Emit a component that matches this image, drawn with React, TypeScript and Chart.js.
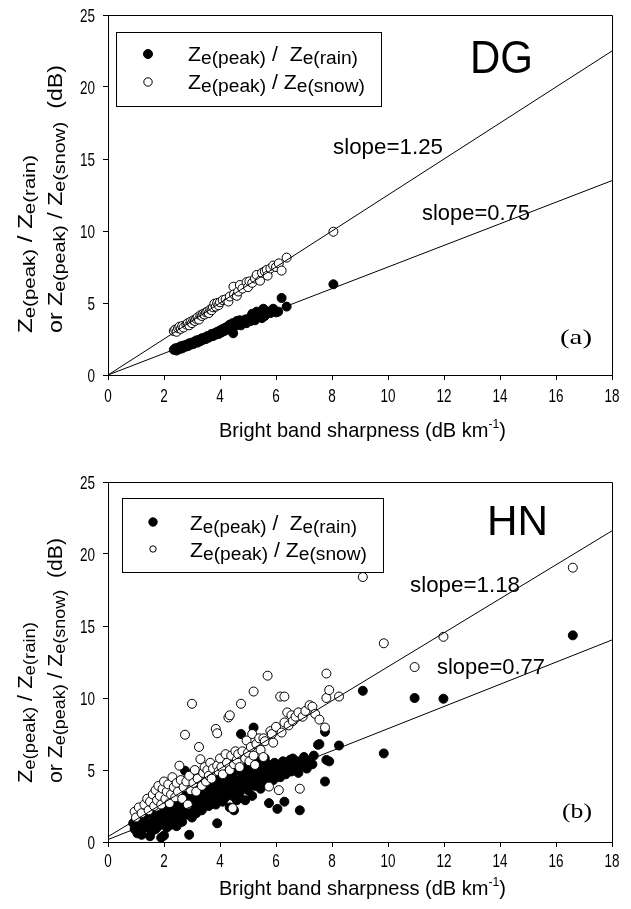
import React, { useEffect, useRef } from 'react';
import { Chart, registerables } from 'chart.js';
Chart.register(...registerables);

// ---------- data ----------
const X_MIN = 0, X_MAX = 18, X_STEP = 2;
const Y_MIN = 0, Y_MAX = 25, Y_STEP = 5;

const dgRain: [number, number][] = [
  [2.35,1.75],[2.4,1.85],[2.45,1.7],[2.5,1.9],[2.55,1.8],[2.6,2.0],[2.65,1.85],[2.7,2.05],[2.75,1.95],[2.8,2.1],
  [2.85,2.0],[2.9,2.2],[2.95,2.1],[3.0,2.25],[3.05,2.15],[3.1,2.3],[3.15,2.4],[3.2,2.25],[3.25,2.45],[3.3,2.35],
  [3.35,2.55],[3.4,2.45],[3.45,2.6],[3.5,2.5],[3.55,2.7],[3.6,2.6],[3.65,2.75],[3.7,2.85],[3.75,2.7],[3.8,2.9],
  [3.85,2.8],[3.9,3.0],[3.95,2.85],[4.0,3.1],[4.05,2.95],[4.1,3.2],[4.15,3.05],[4.2,3.3],[4.25,3.15],[4.3,3.4],
  [4.35,3.5],[4.4,3.25],[4.45,3.6],[4.47,2.9],[4.55,3.4],[4.6,3.75],[4.65,3.55],[4.7,3.8],[4.75,3.45],[4.8,3.7],
  [4.9,3.85],[4.95,3.6],[5.0,3.9],[5.1,3.75],[5.15,4.25],[5.2,4.0],[5.25,3.8],[5.31,4.4],[5.4,4.1],[5.5,3.95],
  [5.55,4.6],[5.6,4.1],[5.7,4.4],[5.8,4.3],[5.9,4.6],[6.0,4.35],[6.08,4.4],[6.2,5.35],[6.38,4.75],[8.05,6.3],
];
const dgSnow: [number, number][] = [
  [2.35,3.05],[2.4,3.15],[2.45,3.0],[2.5,3.25],[2.55,3.35],[2.6,3.2],[2.65,3.4],[2.7,3.3],[2.8,3.5],[2.85,3.6],
  [2.9,3.45],[2.95,3.7],[3.0,3.6],[3.05,3.8],[3.1,3.75],[3.15,3.9],[3.2,4.0],[3.25,3.85],[3.3,4.15],[3.35,4.1],
  [3.4,4.25],[3.45,4.2],[3.5,4.35],[3.55,4.4],[3.6,4.3],[3.65,4.55],[3.7,4.5],[3.75,4.7],[3.8,4.95],[3.85,4.75],
  [3.9,5.0],[3.95,4.85],[4.0,5.05],[4.1,5.2],[4.2,5.25],[4.3,5.1],[4.35,5.45],[4.48,6.13],[4.5,5.6],[4.6,5.5],
  [4.65,5.8],[4.71,6.25],[4.8,6.0],[4.95,6.45],[5.0,6.1],[5.05,6.5],[5.15,6.4],[5.25,6.7],[5.31,6.95],[5.43,6.55],
  [5.5,7.1],[5.6,7.2],[5.67,7.3],[5.7,6.9],[5.8,7.4],[5.9,7.6],[6.0,7.5],[6.1,7.75],[6.2,7.25],[6.38,8.15],[8.05,9.95],
];
const dgSlopes = [1.25, 0.75];
const dgIntercepts = [0, 0];
const dgSlopeLabels = ['slope=1.25', 'slope=0.75'];

const hnRain: [number, number][] = [
  [0.9,1.3],[0.95,0.9],[1.0,1.1],[1.0,1.6],[1.05,0.6],[1.1,1.4],[1.15,0.8],[1.2,0.5],[1.3,1.0],[1.3,1.7],
  [1.4,1.3],[1.5,0.4],[1.55,0.7],[1.6,1.2],[1.6,1.9],[1.65,1.6],[1.7,0.9],[1.75,1.5],[1.8,1.1],[1.85,1.9],
  [1.9,0.3],[1.95,1.4],[2.0,0.45],[2.0,1.7],[2.0,2.4],[2.05,2.1],[2.1,1.0],[2.15,1.5],[2.2,1.9],[2.2,2.6],
  [2.25,1.2],[2.3,2.3],[2.35,1.6],[2.4,2.0],[2.4,2.9],[2.45,1.1],[2.5,2.6],[2.55,1.8],[2.6,2.2],[2.6,3.0],
  [2.65,1.4],[2.7,2.5],[2.75,4.95],[2.8,1.9],[2.8,3.3],[2.85,2.7],[2.9,0.5],[2.9,2.3],[2.95,3.0],[3.0,1.7],
  [3.0,3.6],[3.05,2.6],[3.1,3.3],[3.15,2.0],[3.2,2.9],[3.2,3.8],[3.25,2.4],[3.3,3.5],[3.3,2.8],[3.35,2.2],
  [3.4,3.1],[3.4,3.9],[3.45,2.7],[3.5,3.7],[3.55,3.0],[3.6,2.5],[3.6,4.1],[3.65,3.4],[3.7,2.9],[3.7,3.3],
  [3.75,3.8],[3.8,3.2],[3.8,4.2],[3.85,2.6],[3.9,1.3],[3.9,3.6],[3.95,3.0],[4.0,4.0],[4.0,4.5],[4.05,3.4],
  [4.1,2.8],[4.1,3.6],[4.15,3.7],[4.2,3.1],[4.2,4.7],[4.25,4.2],[4.3,3.5],[4.35,2.4],[4.4,3.9],[4.4,4.8],
  [4.45,3.2],[4.5,2.2],[4.5,4.4],[4.55,3.6],[4.6,2.9],[4.6,4.0],[4.6,5.0],[4.65,4.1],[4.7,3.4],[4.75,7.5],
  [4.8,4.6],[4.8,5.1],[4.85,3.8],[4.9,2.9],[4.95,4.3],[5.0,3.6],[5.0,5.3],[5.05,4.8],[5.1,4.0],[5.1,4.4],
  [5.15,3.2],[5.2,7.95],[5.2,4.5],[5.2,5.5],[5.25,3.9],[5.3,5.0],[5.35,4.2],[5.4,4.7],[5.4,5.6],[5.45,3.7],
  [5.5,5.2],[5.55,4.4],[5.6,4.9],[5.6,4.6],[5.6,5.8],[5.65,4.1],[5.7,5.4],[5.75,2.7],[5.8,4.6],[5.85,5.1],
  [5.9,4.3],[5.95,5.5],[6.0,4.8],[6.0,5.2],[6.05,2.3],[6.1,5.3],[6.15,4.5],[6.2,5.0],[6.25,5.6],[6.3,2.8],
  [6.3,5.5],[6.35,4.7],[6.4,5.2],[6.5,5.7],[6.55,4.9],[6.6,5.4],[6.6,5.8],[6.7,5.1],[6.75,5.6],[6.8,4.8],
  [6.85,2.2],[6.9,5.3],[7.0,5.5],[7.0,5.9],[7.1,5.1],[7.2,5.6],[7.3,5.4],[7.35,6.0],[7.5,6.75],[7.55,6.8],
  [7.75,7.65],[7.75,4.2],[7.8,5.7],[7.9,5.6],[8.25,6.7],[9.1,10.5],[9.85,6.15],[10.95,10.0],[11.98,9.95],[16.6,14.35],
];
const hnSnow: [number, number][] = [
  [0.95,2.1],[1.0,1.7],[1.1,2.4],[1.2,2.0],[1.3,2.6],[1.4,3.0],[1.45,2.2],[1.5,2.8],[1.6,3.3],[1.65,2.5],
  [1.7,3.6],[1.75,2.9],[1.8,3.9],[1.85,3.2],[1.9,2.6],[1.95,3.7],[2.0,4.2],[2.05,3.0],[2.1,3.5],[2.15,4.0],
  [2.2,2.7],[2.25,3.3],[2.3,4.5],[2.35,3.8],[2.4,3.1],[2.45,4.1],[2.5,3.5],[2.55,5.3],[2.6,4.3],[2.65,3.0],
  [2.7,3.8],[2.75,7.45],[2.8,4.2],[2.85,2.6],[2.9,4.6],[2.95,3.6],[3.0,9.6],[3.05,4.1],[3.1,5.0],[3.15,3.5],
  [3.2,4.4],[3.25,6.6],[3.3,5.75],[3.35,3.9],[3.4,4.8],[3.45,5.2],[3.5,4.2],[3.55,5.0],[3.6,4.6],[3.65,5.5],
  [3.7,4.4],[3.75,5.1],[3.85,7.85],[3.9,7.55],[3.9,5.3],[3.95,4.9],[4.0,5.8],[4.05,5.2],[4.1,4.7],[4.2,6.1],
  [4.25,5.5],[4.3,8.65],[4.35,8.8],[4.35,5.0],[4.4,6.0],[4.45,2.35],[4.5,5.4],[4.55,6.3],[4.6,5.7],[4.65,6.1],
  [4.7,5.2],[4.75,9.6],[4.8,6.3],[4.9,5.8],[4.95,7.05],[5.0,6.2],[5.05,5.6],[5.1,6.6],[5.15,7.5],[5.2,10.45],
  [5.2,6.0],[5.25,5.35],[5.3,6.8],[5.4,7.2],[5.45,6.4],[5.55,5.9],[5.55,7.2],[5.6,7.0],[5.7,11.55],[5.75,3.85],
  [5.8,7.7],[5.85,7.5],[5.9,6.9],[6.0,8.0],[6.1,3.6],[6.15,10.1],[6.2,7.6],[6.3,10.1],[6.3,8.3],[6.4,9.0],
  [6.45,8.1],[6.55,8.8],[6.6,8.4],[6.7,8.7],[6.8,9.0],[6.85,3.7],[6.95,8.7],[7.05,9.1],[7.2,9.5],[7.3,9.4],
  [7.4,8.9],[7.55,8.5],[7.75,7.95],[7.8,11.7],[7.8,10.0],[7.9,10.55],[8.25,10.1],[9.1,18.4],[9.85,13.8],[10.95,12.15],
  [11.98,14.25],[16.6,19.05],
];
const hnSlopes = [1.18, 0.77];
const hnIntercepts = [0.37, 0.17];
const hnSlopeLabels = ['slope=1.18', 'slope=0.77'];

const xAxisTitle = 'Bright band sharpness (dB km';
const xAxisTitleSup = '-1';

// ---------- drawing helpers ----------
const SANS = "'Liberation Sans', Arial, Helvetica, sans-serif";
const SERIF = "'Liberation Serif', 'Times New Roman', serif";

type Seg = { t: string; s: number; dy?: number; fam?: string };

function drawRich(
  ctx: CanvasRenderingContext2D,
  segs: Seg[],
  x: number,
  y: number,
  w: number,
  opts: { rot?: boolean; fam?: string; sy?: number; align?: 'left' | 'center' | 'right' } = {}
) {
  const fam = opts.fam || SANS;
  ctx.save();
  let total = 0;
  const widths = segs.map((sg) => {
    ctx.font = `${sg.s}px ${sg.fam || fam}`;
    const m = ctx.measureText(sg.t).width;
    total += m;
    return m;
  });
  const sx = w ? w / total : 1;
  ctx.translate(x, y);
  if (opts.rot) ctx.rotate(-Math.PI / 2);
  if (opts.align === 'center') ctx.translate((-total * sx) / 2, 0);
  if (opts.align === 'right') ctx.translate(-total * sx, 0);
  ctx.scale(sx, opts.sy || 1);
  ctx.fillStyle = '#000';
  ctx.textBaseline = 'alphabetic';
  ctx.textAlign = 'left';
  let cx = 0;
  segs.forEach((sg, i) => {
    ctx.font = `${sg.s}px ${sg.fam || fam}`;
    ctx.fillText(sg.t, cx, sg.dy || 0);
    cx += widths[i];
  });
  ctx.restore();
}

function ratio(sub: string, big = 20, small = 17, dy = 3, sep = ' / '): Seg[] {
  return [
    { t: 'Z', s: big },
    { t: 'e(peak)', s: small, dy },
    { t: sep, s: big },
    { t: 'Z', s: big },
    { t: `e(${sub})`, s: small, dy },
  ];
}

function marker(ctx: CanvasRenderingContext2D, x: number, y: number, r: number, filled: boolean) {
  ctx.save();
  ctx.beginPath();
  ctx.arc(x, y, r, 0, Math.PI * 2);
  ctx.fillStyle = filled ? '#000' : '#fff';
  ctx.fill();
  ctx.lineWidth = 1;
  ctx.strokeStyle = '#000';
  ctx.stroke();
  ctx.restore();
}

type Layout = {
  legendBox: [number, number, number, number];
  mk: [number, number, number, number, number, number];
  leg1: [number, number, number];
  leg2: [number, number, number];
  yt1: [number, number, number];
  yt2: [number, number, number];
  tag: [number, number, number, number];
  s1: [number, number, number];
  s2: [number, number, number];
  letter: [number, number, number];
  xt: [number, number, number];
  xTickBase: number;
};

type PanelCfg = {
  key: string;
  height: number;
  padTop: number;
  xAxisH: number;
  rain: [number, number][];
  snow: [number, number][];
  slopes: number[];
  intercepts: number[];
  slopeLabels: string[];
  letter: string;
  L: Layout;
};

const panels: PanelCfg[] = [
  {
    key: 'DG', height: 455, padTop: 15, xAxisH: 80,
    rain: dgRain, snow: dgSnow, slopes: dgSlopes, intercepts: dgIntercepts, slopeLabels: dgSlopeLabels, letter: '(a)',
    L: {
      legendBox: [116.5, 32.5, 265, 74],
      mk: [148, 54, 4.5, 148, 82, 4.2],
      leg1: [188, 61, 170], leg2: [188, 89, 177],
      yt1: [32, 333, 178], yt2: [62, 333, 268],
      tag: [470, 73, 63, 46],
      s1: [333, 154, 110], s2: [422, 220, 108],
      letter: [560, 344, 32],
      xt: [219, 437, 287],
      xTickBase: 27,
    },
  },
  {
    key: 'HN', height: 454, padTop: 27, xAxisH: 67,
    rain: hnRain, snow: hnSnow, slopes: hnSlopes, intercepts: hnIntercepts, slopeLabels: hnSlopeLabels, letter: '(b)',
    L: {
      legendBox: [122.5, 43.5, 261, 74],
      mk: [153, 67, 4.2, 153, 94, 3.2],
      leg1: [190, 75, 167], leg2: [190, 102, 177],
      yt1: [32, 328, 161], yt2: [62, 328, 245],
      tag: [487, 80, 61, 42],
      s1: [410, 137, 110], s2: [437, 219, 108],
      letter: [562, 363, 30],
      xt: [219, 440, 287],
      xTickBase: 25,
    },
  },
];

const TICK_SIZE = 13.5;
const TICK_STRETCH = 1.38;

function Panel({ cfg }: { cfg: PanelCfg }) {
  const ref = useRef<HTMLCanvasElement>(null);
  useEffect(() => {
    const L = cfg.L;
    const annot = {
      id: 'annot-' + cfg.key,
      afterDraw(chart: any) {
        const ctx: CanvasRenderingContext2D = chart.ctx;
        const a = chart.chartArea;
        ctx.save();
        ctx.strokeStyle = '#000';
        ctx.lineWidth = 1;
        ctx.beginPath();
        ctx.moveTo(Math.round(a.left) + 0.5, Math.round(a.top) + 0.5);
        ctx.lineTo(Math.round(a.right) + 0.5, Math.round(a.top) + 0.5);
        ctx.lineTo(Math.round(a.right) + 0.5, Math.round(a.bottom) + 0.5);
        ctx.stroke();
        ctx.strokeRect(L.legendBox[0], L.legendBox[1], L.legendBox[2], L.legendBox[3]);
        ctx.restore();

        // tick labels from the library's scales (drawn vertically stretched like the reference)
        const xs = chart.scales.x;
        const ys = chart.scales.y;
        xs.ticks.forEach((t: any) => {
          const px = xs.getPixelForValue(t.value);
          drawRich(ctx, [{ t: String(t.value), s: TICK_SIZE }], px, a.bottom + L.xTickBase, 0, {
            align: 'center', sy: TICK_STRETCH,
          });
        });
        ys.ticks.forEach((t: any) => {
          const py = ys.getPixelForValue(t.value);
          drawRich(ctx, [{ t: String(t.value), s: TICK_SIZE }], a.left - 13, py + 6.5, 0, {
            align: 'right', sy: TICK_STRETCH,
          });
        });

        marker(ctx, L.mk[0], L.mk[1], L.mk[2], true);
        marker(ctx, L.mk[3], L.mk[4], L.mk[5], false);
        drawRich(ctx, ratio('rain', 20, 18, 3, ' /  '), L.leg1[0], L.leg1[1], L.leg1[2]);
        drawRich(ctx, ratio('snow', 20, 18, 3, ' / '), L.leg2[0], L.leg2[1], L.leg2[2]);
        drawRich(ctx, ratio('rain'), L.yt1[0], L.yt1[1], L.yt1[2], { rot: true });
        drawRich(
          ctx,
          [{ t: 'or ', s: 20 }, ...ratio('snow'), { t: '  (dB)', s: 20 }],
          L.yt2[0], L.yt2[1], L.yt2[2], { rot: true }
        );
        drawRich(ctx, [{ t: cfg.key, s: L.tag[3] }], L.tag[0], L.tag[1], L.tag[2]);
        drawRich(ctx, [{ t: cfg.slopeLabels[0], s: 19 }], L.s1[0], L.s1[1], L.s1[2], { sy: 1.12 });
        drawRich(ctx, [{ t: cfg.slopeLabels[1], s: 19 }], L.s2[0], L.s2[1], L.s2[2], { sy: 1.12 });
        drawRich(ctx, [{ t: cfg.letter, s: 22, fam: SERIF }], L.letter[0], L.letter[1], L.letter[2]);
        drawRich(
          ctx,
          [{ t: xAxisTitle, s: 18 }, { t: xAxisTitleSup, s: 11, dy: -8 }, { t: ')', s: 18 }],
          L.xt[0], L.xt[1], L.xt[2], { sy: 1.12 }
        );
      },
    };

    const lineData = (i: number) => [
      { x: X_MIN, y: cfg.intercepts[i] + cfg.slopes[i] * X_MIN },
      { x: X_MAX, y: cfg.intercepts[i] + cfg.slopes[i] * X_MAX },
    ];

    const chart = new Chart(ref.current!, {
      type: 'scatter',
      data: {
        datasets: [
          { data: lineData(0), showLine: true, borderColor: '#000', borderWidth: 1, pointRadius: 0, fill: false },
          { data: lineData(1), showLine: true, borderColor: '#000', borderWidth: 1, pointRadius: 0, fill: false },
          {
            data: cfg.snow.map(([x, y]) => ({ x, y })),
            pointRadius: 4.5, pointBackgroundColor: '#fff', pointBorderColor: '#000', pointBorderWidth: 1,
            backgroundColor: '#fff', borderColor: '#000',
          },
          {
            data: cfg.rain.map(([x, y]) => ({ x, y })),
            pointRadius: 4.5, pointBackgroundColor: '#000', pointBorderColor: '#000', pointBorderWidth: 1,
            backgroundColor: '#000', borderColor: '#000',
          },
        ],
      },
      options: {
        responsive: false,
        animation: false,
        devicePixelRatio: 1,
        layout: { padding: { top: cfg.padTop, right: 19, left: 0, bottom: 0 } },
        plugins: { legend: { display: false }, tooltip: { enabled: false } },
        events: [],
        scales: {
          x: {
            type: 'linear', min: X_MIN, max: X_MAX,
            ticks: { stepSize: X_STEP, display: false, autoSkip: false },
            grid: { drawOnChartArea: false, drawTicks: true, tickLength: 5, color: '#000' },
            border: { display: true, color: '#000', width: 1 },
            afterFit: (s: any) => { s.height = cfg.xAxisH; },
          },
          y: {
            type: 'linear', min: Y_MIN, max: Y_MAX,
            ticks: { stepSize: Y_STEP, display: false },
            grid: { drawOnChartArea: false, drawTicks: true, tickLength: 5, color: '#000' },
            border: { display: true, color: '#000', width: 1 },
            afterFit: (s: any) => { s.width = 108; },
          },
        },
      } as any,
      plugins: [annot],
    });
    return () => chart.destroy();
  }, [cfg]);
  return (
    <canvas
      ref={ref}
      width={631}
      height={cfg.height}
      style={{ display: 'block', width: 631, height: cfg.height }}
    />
  );
}

export default function App() {
  return (
    <div style={{ position: 'absolute', left: 0, top: 0, width: 631, height: 909, background: '#fff' }}>
      {panels.map((p) => (
        <Panel key={p.key} cfg={p} />
      ))}
    </div>
  );
}
